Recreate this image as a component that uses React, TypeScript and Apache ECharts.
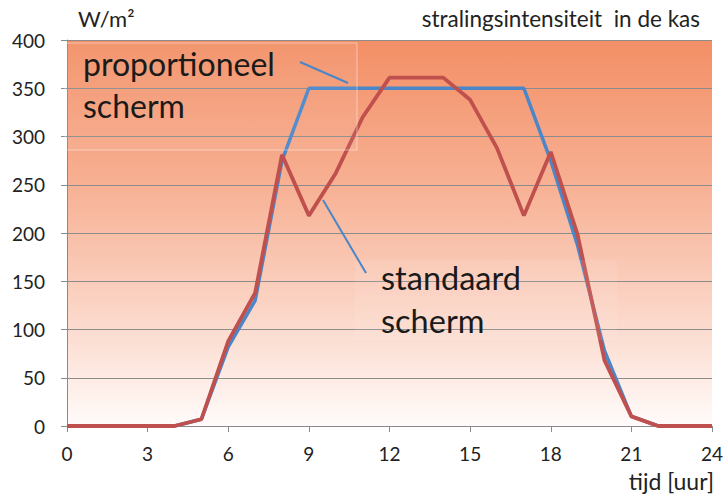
import React, { useEffect, useRef } from "react";
import * as echarts from "echarts";

const hours = [0, 1, 2, 3, 4, 5, 6, 7, 8, 9, 10, 11, 12, 13, 14, 15, 16, 17, 18, 19, 20, 21, 22, 23, 24];
const proportioneel = [0, 0, 0, 0, 0, 7, 82, 130, 275, 350, 350, 350, 350, 350, 350, 350, 350, 350, 275, 187, 78, 10, 0, 0, 0];
const standaard = [0, 0, 0, 0, 0, 7, 88, 138, 281, 218, 262, 320, 361, 361, 361, 338, 288, 218, 284, 198, 68, 10, 0, 0, 0];
const xTicks = [0, 3, 6, 9, 12, 15, 18, 21, 24];

const FONT = "Lato, 'Open Sans', sans-serif";

export default function App() {
  const ref = useRef<HTMLDivElement>(null);
  useEffect(() => {
    if (!ref.current) return;
    const chart = echarts.init(ref.current, undefined, { renderer: "svg" });
    chart.setOption({
      animation: false,
      grid: {
        left: 67,
        right: 15,
        top: 40,
        bottom: 71,
        show: true,
        borderWidth: 0,
        backgroundColor: {
          type: "linear",
          x: 0,
          y: 0,
          x2: 0,
          y2: 1,
          colorStops: [
            { offset: 0, color: "#F38F66" },
            { offset: 0.35, color: "#F7AE90" },
            { offset: 0.7, color: "#FBD5C6" },
            { offset: 1, color: "#FFFBFA" },
          ],
        },
      },
      xAxis: {
        type: "value",
        min: 0,
        max: 24,
        interval: 3,
        axisLine: { show: true, lineStyle: { color: "#8a8a8a", width: 1 } },
        axisTick: { show: true, length: 6, lineStyle: { color: "#8a8a8a" } },
        splitLine: { show: false },
        axisLabel: {
          color: "#222",
          fontSize: 19,
          fontFamily: FONT,
          margin: 18,
          formatter: (v: number) => (xTicks.includes(v) ? String(v) : ""),
        },
      },
      yAxis: {
        type: "value",
        min: 0,
        max: 400,
        interval: 50,
        axisLine: { show: true, lineStyle: { color: "#8a8a8a", width: 1 } },
        axisTick: { show: true, length: 6, lineStyle: { color: "#8a8a8a" } },
        splitLine: { show: true, lineStyle: { color: "#8c8c8c", width: 1 } },
        axisLabel: { color: "#222", fontSize: 19, fontFamily: FONT, margin: 22 },
      },
      series: [
        {
          type: "line",
          name: "proportioneel scherm",
          data: hours.map((h, i) => [h, proportioneel[i]]),
          showSymbol: false,
          lineStyle: { color: "#4A86C8", width: 3.5 },
          itemStyle: { color: "#4A86C8" },
          z: 2,
        },
        {
          type: "line",
          name: "standaard scherm",
          data: hours.map((h, i) => [h, standaard[i]]),
          showSymbol: false,
          lineStyle: { color: "#C0504D", width: 3.8 },
          itemStyle: { color: "#C0504D" },
          z: 3,
        },
      ],
      graphic: [
        {
          type: "rect",
          shape: { x: 65, y: 43, width: 292, height: 107 },
          style: { fill: "rgba(255,255,255,0.06)", stroke: "rgba(255,255,255,0.45)", lineWidth: 1 },
          z: 10,
        },
        {
          type: "rect",
          shape: { x: 355, y: 260, width: 262, height: 80 },
          style: { fill: "rgba(255,255,255,0.08)", stroke: "rgba(255,255,255,0.0)", lineWidth: 0 },
          z: 10,
        },
        {
          type: "line",
          shape: { x1: 300, y1: 62, x2: 348, y2: 83 },
          style: { stroke: "#4A86C8", lineWidth: 2 },
          z: 11,
        },
        {
          type: "line",
          shape: { x1: 323, y1: 200, x2: 366, y2: 273 },
          style: { stroke: "#4A86C8", lineWidth: 2 },
          z: 11,
        },
        {
          type: "text",
          x: 83,
          y: 42,
          style: { text: "proportioneel\nscherm", fontSize: 32, lineHeight: 42, fontFamily: FONT, fill: "#1a1a1a" },
          z: 12,
        },
        {
          type: "text",
          x: 381,
          y: 256,
          style: { text: "standaard\nscherm", fontSize: 32.5, lineHeight: 43, fontFamily: FONT, fill: "#1a1a1a" },
          z: 12,
        },
        {
          type: "text",
          x: 78,
          y: 7,
          style: { text: "W/m²", fontSize: 22, fontFamily: FONT, fill: "#222" },
        },
        {
          type: "text",
          right: 27,
          y: 7,
          style: { text: "stralingsintensiteit  in de kas", fontSize: 22.5, fontFamily: FONT, fill: "#222" },
        },
        {
          type: "text",
          right: 13,
          y: 469,
          style: { text: "tijd [uur]", fontSize: 23, fontFamily: FONT, fill: "#222" },
        },
      ],
    });
    return () => chart.dispose();
  }, []);
  return <div ref={ref} style={{ width: 727, height: 497, position: "absolute", left: 0, top: 0, background: "#fff" }} />;
}
